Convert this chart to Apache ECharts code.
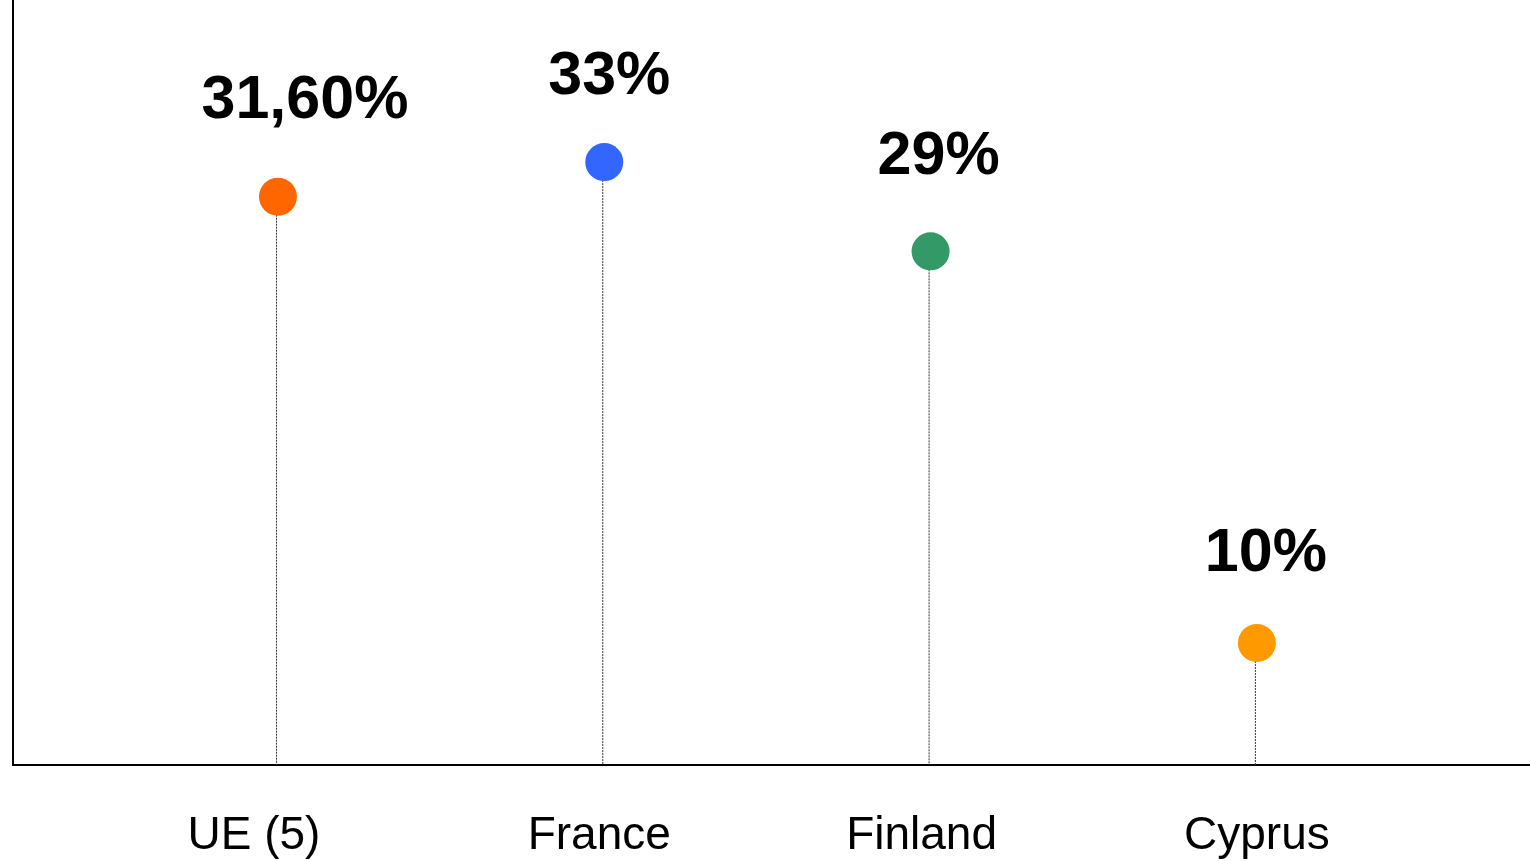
<!DOCTYPE html>
<html>
<head>
<meta charset="utf-8">
<style>
  html, body { margin: 0; padding: 0; background: #fff; }
  #main { width: 1530px; height: 861px; }
</style>
<script src="https://cdn.jsdelivr.net/npm/echarts@6/dist/echarts.min.js"></script>
</head>
<body>
<div id="main"></div>
<script>
    // categories and values (heights, text from the labels)
    var categories = ['UE (5)', 'France', 'Finland', 'Cyprus'];
    var values = [31.2, 33.1, 28.2, 6.7];
    var valueLabels = ['31,60%', '33%', '29%', '10%'];
    var colors = ['#ff6600', '#3366ff', '#339966', '#ff9900'];
    var labelOffsets = [[27, -96], [5, -85], [8, -94], [9, -89]];
    // small horizontal nudges of the category names (right padding)
    var catPad = [48, 10, 18, 0];

    var chart = echarts.init(document.getElementById('main'));

    var points = values.map(function (v, i) {
        return {
            value: [i, v],
            itemStyle: { color: colors[i] },
            label: { formatter: valueLabels[i], offset: labelOffsets[i] }
        };
    });

    var rich = {};
    catPad.forEach(function (p, i) {
        rich['c' + i] = {
            fontSize: 46, color: '#000',
            fontFamily: 'Liberation Sans, Arial, sans-serif',
            padding: [0, p, 0, 0]
        };
    });

    var option = {
        animation: false,
        grid: { left: 13, right: 0, top: 0, bottom: 96 },
        xAxis: {
            type: 'value',
            min: -0.812,
            max: 3.837,
            splitLine: { show: false },
            axisTick: { show: false },
            axisLine: { show: true, lineStyle: { color: '#000', width: 2 } },
            axisLabel: {
                customValues: [0, 1, 2, 3],
                margin: 48,
                color: '#000',
                fontSize: 46,
                fontFamily: 'Liberation Sans, Arial, sans-serif',
                formatter: function (v) {
                    var i = Math.round(v);
                    return '{c' + i + '|' + categories[i] + '}';
                },
                rich: rich
            }
        },
        yAxis: {
            type: 'value',
            min: 0,
            max: 42,
            splitLine: { show: false },
            axisTick: { show: false },
            axisLabel: { show: false },
            axisLine: { show: true, onZero: false, lineStyle: { color: '#000', width: 2 } }
        },
        series: [{
            // stems
            type: 'custom',
            data: values.map(function (v, i) { return [i, v]; }),
            renderItem: function (params, api) {
                var top = api.coord([api.value(0), api.value(1)]);
                var bottom = api.coord([api.value(0), 0]);
                return {
                    type: 'line',
                    shape: { x1: top[0] - 1.5, y1: top[1], x2: bottom[0] - 1.5, y2: bottom[1] },
                    style: { stroke: '#333', lineWidth: 1, lineDash: [2, 1] }
                };
            },
            z: 1
        }, {
            type: 'scatter',
            symbol: 'circle',
            symbolSize: 38,
            data: points,
            itemStyle: { opacity: 1 },
            label: {
                show: true,
                position: 'inside',
                color: '#000',
                fontSize: 61,
                fontWeight: 'bold',
                fontFamily: 'Liberation Sans, Arial, sans-serif'
            },
            z: 2
        }]
    };
    chart.setOption(option);
</script>
</body>
</html>
